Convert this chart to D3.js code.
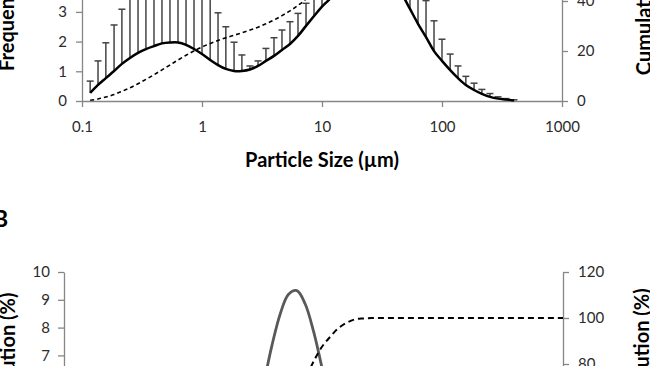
<!DOCTYPE html>
<html><head><meta charset="utf-8">
<script src="https://cdn.jsdelivr.net/npm/d3@7"></script>
<style>
html,body{margin:0;padding:0;background:#fff;overflow:hidden}
svg{display:block}
text{font-family:Lato,"Open Sans",sans-serif}
</style></head><body>
<svg id="chart" width="650" height="366"></svg>
<script>
// particle size bins (µm), 15 per decade
const sizes = [0.117,0.136,0.158,0.185,0.215,0.251,0.293,0.341,0.398,0.464,0.541,0.631,0.736,0.858,
  1,1.17,1.36,1.58,1.85,2.15,2.51,2.93,3.41,3.98,4.64,5.41,6.31,7.36,8.58,
  10,11.7,13.6,15.8,18.5,21.5,25.1,29.3,34.1,39.8,46.4,54.1,63.1,73.6,85.8,
  100,117,136,158,185,215,251,293,341,398,464,541,631,736,858,1000];

// Panel A: frequency (%), standard deviation (%), cumulative (%)
const freqA = [0.27,0.54,0.77,1.01,1.25,1.45,1.62,1.75,1.85,1.94,1.97,1.97,1.89,1.75,
  1.58,1.38,1.21,1.08,1.01,1.01,1.06,1.18,1.35,1.52,1.72,1.92,2.19,2.53,2.86,
  3.18,3.45,3.80,4.10,4.35,4.50,4.52,4.45,4.30,4.05,3.60,3.10,2.60,2.15,1.68,
  1.35,1.04,0.77,0.54,0.37,0.24,0.14,0.08,0.05,0.02,
  null,null,null,null,null,null];
const sdA = [0.40,0.81,1.19,1.55,1.84,2.10,2.30,2.40,2.50,2.50,2.50,2.45,2.40,2.30,
  2.15,2.15,1.76,1.42,0.97,0.54,0.12,0.17,0.42,0.61,0.67,0.75,0.76,0.76,0.85,
  0.90,0.95,1.00,1.05,1.10,1.10,1.10,1.10,1.10,1.10,1.15,1.20,1.25,1.23,1.02,
  0.73,0.54,0.41,0.29,0.23,0.15,0.11,0.06,0.03,0.02,
  null,null,null,null,null,null];
const cumA = [0.27,0.81,1.58,2.59,3.84,5.29,6.91,8.66,10.51,12.45,14.42,16.39,18.28,20.03,
  21.61,22.99,24.20,25.28,26.29,27.30,28.36,29.54,30.89,32.41,34.13,36.05,38.24,40.77,43.63,
  46.81,50.0,53.5,57.0,60.5,64.0,67.5,71.0,74.5,78.0,81.5,85.0,88.0,90.5,92.6,
  94.3,95.7,96.8,97.7,98.4,98.9,99.3,99.6,99.8,99.9,
  100,100,100,100,100,100];

// Panel B: frequency (%), cumulative (%)
const freqB = [null,null,null,null,null,null,null,null,null,null,null,null,null,null,
  0.05,0.10,0.21,0.42,0.77,1.33,2.13,3.20,4.51,5.95,7.35,8.49,9.20,9.33,8.85,
  7.87,6.55,5.10,3.72,2.55,1.63,0.98,0.55,0.29,0.14,0.06,
  null,null,null,null,null,null,null,null,null,null,null,null,null,null,null,null,null,null,null,null];
const cumB = [null,null,null,null,null,null,null,null,null,null,null,null,null,null,
  0.3,0.7,1.4,2.5,4.2,6.8,10.4,15.0,21.0,28.0,36.0,45.0,54.5,64.0,73.0,
  81.0,87.5,91.8,95.5,98.0,99.4,99.8,100,100,100,100,100,100,100,100,
  100,100,100,100,100,100,100,100,100,100,100,100,100,100,100,100];

const xTicks = [0.1,1,10,100,1000];
const xTickLabels = ["0.1","1","10","100","1000"];
const leftTicks = [0,1,2,3,4,5,6,7,8,9,10];
const rightTicks = [0,20,40,60,80,100,120];
const xTitle = "Particle Size (µm)";
const leftTitle = "Frequency Distribution (%)";
const rightTitle = "Cumulative Distribution (%)";

const svg = d3.select("#chart");
svg.append("rect").attr("width",650).attr("height",366).attr("fill","#fff");

const AXIS = "#868686", LABEL = "#2b2b2b", TITLE_SIZE = 20, TICK_SIZE = 15;

function styleAxis(g){
  g.select(".domain").attr("stroke",AXIS).attr("stroke-width",1.3);
  g.selectAll(".tick line").attr("stroke",AXIS).attr("stroke-width",1.3);
  g.selectAll(".tick text").attr("fill",LABEL).style("font-size",TICK_SIZE+"px").style("font-family","Lato");
}

function panel(cfg){
  const g = svg.append("g");
  const x = d3.scaleLog().domain([0.1,1000]).range(cfg.xr);
  const yL = d3.scaleLinear().domain([0,10]).range(cfg.yLr);
  const yR = d3.scaleLinear().domain([0,120]).range(cfg.yRr);
  const bottom = cfg.yLr[0];

  g.append("g").attr("transform",`translate(0,${bottom})`)
    .call(d3.axisBottom(x).tickValues(xTicks).tickFormat((d,i)=>xTickLabels[i]).tickSizeInner(6).tickSizeOuter(0).tickPadding(14))
    .call(styleAxis);
  g.append("g").attr("transform",`translate(${cfg.xr[0]},0)`)
    .call(d3.axisLeft(yL).tickValues(leftTicks).tickFormat(d3.format("d")).tickSizeInner(6).tickSizeOuter(0).tickPadding(cfg.padL))
    .call(styleAxis);
  g.append("g").attr("transform",`translate(${cfg.xr[1]},0)`)
    .call(d3.axisRight(yR).tickValues(rightTicks).tickFormat(d3.format("d")).tickSizeInner(6).tickSizeOuter(0).tickPadding(9))
    .call(styleAxis);

  const pts = (arr) => sizes.map((s,i)=>({s, v:arr[i], i}));

  if(cfg.sd){
    const bars = pts(cfg.freq).filter(d=>d.v!=null && cfg.sd[d.i]!=null);
    const eb = g.append("g").attr("stroke","#444").attr("stroke-width",1.5);
    bars.forEach(d=>{
      const xx = x(d.s), y0 = yL(d.v), y1 = yL(d.v + cfg.sd[d.i]);
      eb.append("line").attr("x1",xx).attr("x2",xx).attr("y1",y0).attr("y2",y1);
      eb.append("line").attr("x1",xx-3.5).attr("x2",xx+3.5).attr("y1",y1).attr("y2",y1);
    });
  }

  const lineF = d3.line().defined(d=>d.v!=null).x(d=>x(d.s)).y(d=>yL(d.v)).curve(d3.curveCatmullRom.alpha(0.5));
  const lineC = d3.line().defined(d=>d.v!=null).x(d=>x(d.s)).y(d=>yR(d.v)).curve(d3.curveCatmullRom.alpha(0.5));

  g.append("path").attr("d",lineF(pts(cfg.freq))).attr("fill","none")
    .attr("stroke",cfg.freqColor).attr("stroke-width",cfg.freqWidth).attr("stroke-linejoin","round");
  g.append("path").attr("d",lineC(pts(cfg.cum))).attr("fill","none")
    .attr("stroke","#000").attr("stroke-width",cfg.dashWidth).attr("stroke-dasharray",cfg.dash);

  const midY = (cfg.yLr[0]+cfg.yLr[1])/2;
  g.append("text").attr("transform",`translate(${cfg.titleLX},${midY}) rotate(-90)`)
    .attr("text-anchor","middle").style("font-weight","bold").style("font-size",TITLE_SIZE+"px").attr("fill","#000").text(leftTitle);
  g.append("text").attr("transform",`translate(${cfg.titleRX},${midY}) rotate(-90)`)
    .attr("text-anchor","middle").style("font-weight","bold").style("font-size",TITLE_SIZE+"px").attr("fill","#000").text(rightTitle);
  g.append("text").attr("x",(cfg.xr[0]+cfg.xr[1])/2).attr("y",bottom+66)
    .attr("text-anchor","middle").style("font-weight","bold").style("font-size",TITLE_SIZE+"px").attr("fill","#000").text(xTitle);
  if(cfg.letter){
    g.append("text").attr("x",cfg.letter[1]).attr("y",cfg.letter[2]).style("font-weight","bold")
      .style("font-size","23px").attr("fill","#000").text(cfg.letter[0]);
  }
}

panel({xr:[82,562], yLr:[101,-196], yRr:[101,-199], padL:9, freq:freqA, sd:sdA, cum:cumA,
  freqColor:"#000", freqWidth:2.5, dash:"4,3", dashWidth:1.6, titleLX:14, titleRX:651, letter:["A",-7,-225]});
panel({xr:[64,563], yLr:[550,272], yRr:[548,272], padL:8, freq:freqB, sd:null, cum:cumB,
  freqColor:"#595959", freqWidth:2.8, dash:"6,4", dashWidth:2, titleLX:15, titleRX:649, letter:["B",-7,227]});
</script>
</body></html>
